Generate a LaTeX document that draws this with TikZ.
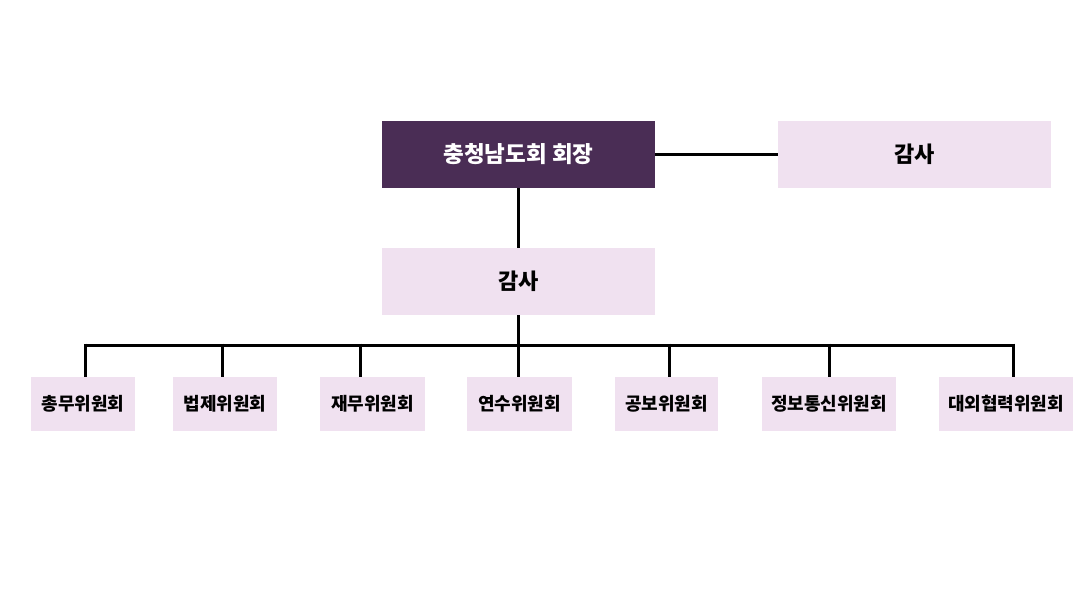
\documentclass[tikz,border=0pt]{standalone}
\usepackage{fontspec}
\setmainfont{Noto Sans CJK KR}
\usetikzlibrary{positioning}
\definecolor{chairpurple}{HTML}{4A2D55}
\definecolor{lightpink}{HTML}{F0E1F0}
\tikzstyle{chair} = [rectangle, fill=chairpurple, text=white,
minimum width=273pt, minimum height=67pt, inner sep=0pt,
font=\fontsize{22.5}{26}\selectfont\bfseries]
\tikzstyle{audit} = [rectangle, fill=lightpink, text=black,
minimum width=273pt, minimum height=67pt, inner sep=0pt,
font=\fontsize{22}{26}\selectfont\bfseries]
\tikzstyle{committee} = [rectangle, fill=lightpink, text=black,
minimum height=54pt, inner sep=0pt,
font=\fontsize{18}{21}\selectfont\bfseries]
\tikzstyle{link} = [line width=3pt, black]

\begin{document}
\begin{tikzpicture}[x=1pt, y=-1pt]
		% page frame
		\useasboundingbox (0,0) rectangle (1090,613);
		
		% ---- top row ----
		\node[chair] (head) at (518.5,154.5) {충청남도회 회장};
		\node[audit] (auditR) at (914.5,154.5) {감사};
		\draw[link] (head.east) -- (auditR.west);
		
		% ---- middle ----
		\node[audit] (auditM) at (518.5,281.5) {감사};
		\draw[link] (head.south) -- (auditM.north);
		
		% ---- committees ----
		\node[committee, minimum width=104pt] (c1) at (83,404) {총무위원회};
		\node[committee, minimum width=104pt] (c2) at (225,404) {법제위원회};
		\node[committee, minimum width=105pt] (c3) at (372.5,404) {재무위원회};
		\node[committee, minimum width=105pt] (c4) at (519.5,404) {연수위원회};
		\node[committee, minimum width=103pt] (c5) at (666.5,404) {공보위원회};
		\node[committee, minimum width=134pt] (c6) at (829,404) {정보통신위원회};
		\node[committee, minimum width=134pt] (c7) at (1006,404) {대외협력위원회};
		
		% bus line
		\coordinate (busL) at (85,345);
		\coordinate (busR) at (1014,345);
		\draw[link] (busL) -- (busR);
		\draw[link] (auditM.south) -- (auditM.south |- busL);
		
		% drops to each committee
		\foreach \n/\xd in {c1/85, c2/222, c3/360, c4/518, c5/669, c6/829, c7/1013} {
			\coordinate (drop) at (\xd,343.5);
			\draw[link] (drop) -- (drop |- \n.north);
		}
		
	\end{tikzpicture}
\end{document}
